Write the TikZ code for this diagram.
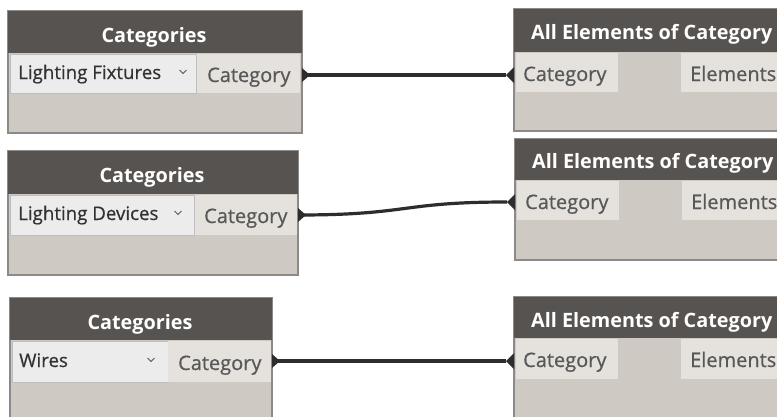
\documentclass[tikz,border=0pt]{standalone}
\usepackage{fontspec}
\setmainfont{Open Sans}
\newfontfamily\labelfont[FakeBold=0.6]{Open Sans}
\definecolor{nodehead}{RGB}{87,83,80}
\definecolor{nodebody}{RGB}{206,201,195}
\definecolor{nodeborder}{RGB}{140,137,134}
\definecolor{portbg}{RGB}{229,225,220}
\definecolor{dropbg}{RGB}{236,236,236}
\definecolor{dropline}{RGB}{190,190,190}
\definecolor{labelgray}{RGB}{88,88,88}
\definecolor{droptxt}{RGB}{50,50,50}
\definecolor{wirecol}{RGB}{45,45,45}
\tikzset{
  x=1pt, y=-1pt,
  frame/.style={draw=nodeborder, line width=1.2pt, fill=nodebody, inner sep=0pt, outer sep=0pt, anchor=north west},
  headbar/.style={fill=nodehead, inner sep=0pt, outer sep=0pt, anchor=north west},
  dropfield/.style={fill=dropbg, draw=dropline, line width=0.6pt, inner sep=0pt, outer sep=0pt, anchor=north west},
  portfield/.style={fill=portbg, inner sep=0pt, outer sep=0pt, anchor=north west},
  titletext/.style={text=white, font=\bfseries\fontsize{19.8}{22}\selectfont, inner sep=0pt, anchor=base},
  porttext/.style={text=labelgray, font=\labelfont\fontsize{20}{22}\selectfont, inner sep=0pt, anchor=base west},
  droptext/.style={text=droptxt, font=\labelfont\fontsize{18.7}{22}\selectfont, inner sep=0pt, anchor=base west},
  chevron/.style={draw=labelgray, line width=1pt},
  wire/.style={draw=wirecol, line width=3.2pt},
  porttip/.style={fill=wirecol},
}
% drop-down chevron centred at (#1,#2)
\newcommand\dropchev[2]{\draw[chevron] (#1-3.5,#2-2) -- (#1,#2+1.5) -- (#1+3.5,#2-2);}
\begin{document}
\begin{tikzpicture}
\useasboundingbox (0,0) rectangle (777,416);
\clip (0,0) rectangle (777,416);
\fill[white] (0,0) rectangle (777,416);

% ---------- Categories nodes (left column) ----------
% first
\node[frame, minimum width=294pt, minimum height=122pt] (catA) at (8,11) {};
\node[headbar, minimum width=294pt, minimum height=42pt] (catAhead) at (8,11) {};
\node[titletext] (catAtitle) at (154,42) {Categories};
\node[dropfield, minimum width=186pt, minimum height=39pt] (catAdrop) at (10,54) {};
\node[portfield, minimum width=103pt, minimum height=39pt] (catAport) at (197,54) {};
\node[droptext] (catAval) at (18,79) {Lighting Fixtures};
\dropchev{183}{72}
\node[porttext] (catAlab) at (207,82) {Category};
\coordinate (catAout) at (302,75);
\fill[porttip] (302,68) -- (310,75) -- (302,82) -- cycle;

% second
\node[frame, minimum width=290pt, minimum height=124pt] (catB) at (8,151) {};
\node[headbar, minimum width=290pt, minimum height=43pt] (catBhead) at (8,151) {};
\node[titletext] (catBtitle) at (152,182) {Categories};
\node[dropfield, minimum width=184pt, minimum height=40pt] (catBdrop) at (10,195) {};
\node[portfield, minimum width=102pt, minimum height=40pt] (catBport) at (195,195) {};
\node[droptext] (catBval) at (18,220) {Lighting Devices};
\dropchev{178}{213}
\node[porttext] (catBlab) at (204,223) {Category};
\coordinate (catBout) at (298,215);
\fill[porttip] (298,208) -- (306,215) -- (298,222) -- cycle;

% third
\node[frame, minimum width=262pt, minimum height=130pt] (catC) at (10,298) {};
\node[headbar, minimum width=262pt, minimum height=42pt] (catChead) at (10,298) {};
\node[titletext] (catCtitle) at (140,329) {Categories};
\node[dropfield, minimum width=156pt, minimum height=41pt] (catCdrop) at (12,341) {};
\node[portfield, minimum width=103pt, minimum height=41pt] (catCport) at (168,341) {};
\node[droptext] (catCval) at (19,367) {Wires};
\dropchev{151}{360}
\node[porttext] (catClab) at (178,370) {Category};
\coordinate (catCout) at (272,361);
\fill[porttip] (272,354) -- (280,361) -- (272,368) -- cycle;

% ---------- All Elements of Category nodes (right column) ----------
% first
\node[frame, minimum width=300pt, minimum height=122pt] (allA) at (514,9) {};
\node[headbar, minimum width=300pt, minimum height=43pt] (allAhead) at (514,9) {};
\node[titletext, anchor=base west] (allAtitle) at (531,39) {All Elements of Category};
\node[portfield, minimum width=102pt, minimum height=39pt] (allAin) at (516,53) {};
\node[portfield, minimum width=120pt, minimum height=39pt] (allAoutf) at (681,53) {};
\node[porttext] (allAlab) at (523,81) {Category};
\node[porttext] (allAel) at (690,81) {Elements};
\coordinate (allAport) at (506,75);
\fill[porttip] (514,67) -- (506,75) -- (514,83) -- cycle;

% second
\node[frame, minimum width=300pt, minimum height=121pt] (allB) at (515,139) {};
\node[headbar, minimum width=300pt, minimum height=41pt] (allBhead) at (515,139) {};
\node[titletext, anchor=base west] (allBtitle) at (532,168) {All Elements of Category};
\node[portfield, minimum width=102pt, minimum height=39pt] (allBin) at (517,181) {};
\node[portfield, minimum width=120pt, minimum height=39pt] (allBoutf) at (682,181) {};
\node[porttext] (allBlab) at (525,209) {Category};
\node[porttext] (allBel) at (691,209) {Elements};
\coordinate (allBport) at (507,202);
\fill[porttip] (515,194) -- (507,202) -- (515,210) -- cycle;

% third
\node[frame, minimum width=300pt, minimum height=130pt] (allC) at (514,297) {};
\node[headbar, minimum width=300pt, minimum height=41pt] (allChead) at (514,297) {};
\node[titletext, anchor=base west] (allCtitle) at (531,327) {All Elements of Category};
\node[portfield, minimum width=102pt, minimum height=40pt] (allCin) at (516,339) {};
\node[portfield, minimum width=120pt, minimum height=40pt] (allCoutf) at (681,339) {};
\node[porttext] (allClab) at (523,367) {Category};
\node[porttext] (allCel) at (690,367) {Elements};
\coordinate (allCport) at (506,361);
\fill[porttip] (514,353) -- (506,361) -- (514,369) -- cycle;

% ---------- wires ----------
\draw[wire] (catAout) -- (allAport);
\draw[wire] (catBout) .. controls (410,215) and (400,202) .. (allBport);
\draw[wire] (catCout) -- (allCport);
\end{tikzpicture}
\end{document}
